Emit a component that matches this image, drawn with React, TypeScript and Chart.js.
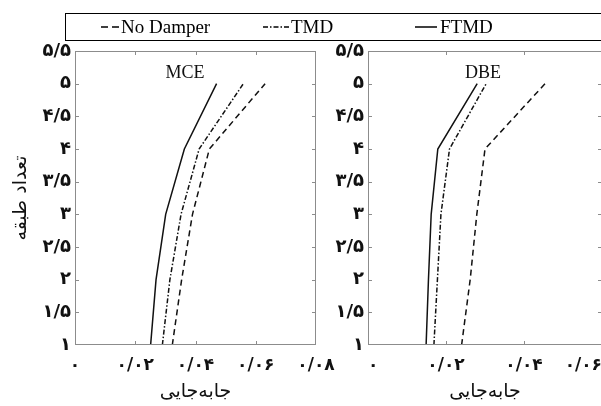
import React, { useEffect, useRef } from 'react';
import { Chart, registerables } from 'chart.js';

Chart.register(...registerables);

// ---- data ----
const floors = [1, 2, 3, 4, 5];

const mceNoDamper = [0.0323, 0.0354, 0.039, 0.0446, 0.0631];
const mceTMD = [0.029, 0.0315, 0.0352, 0.0412, 0.0559];
const mceFTMD = [0.0251, 0.0269, 0.0301, 0.0363, 0.047];

const dbeNoDamper = [0.024, 0.0262, 0.0279, 0.03, 0.0454];
const dbeTMD = [0.0169, 0.0178, 0.0187, 0.0209, 0.0303];
const dbeFTMD = [0.0149, 0.0155, 0.0162, 0.0179, 0.028];

const floorTickLabels = ['۱', '۱/۵', '۲', '۲/۵', '۳', '۳/۵', '۴', '۴/۵', '۵', '۵/۵'];
const mceDriftTickLabels = ['۰', '۰/۰۲', '۰/۰۴', '۰/۰۶', '۰/۰۸'];
const dbeDriftTickLabels = ['۰', '۰/۰۲', '۰/۰۴', '۰/۰۶'];

const seriesNames = ['No Damper', 'TMD', 'FTMD'];
const xTitle = 'جابه\u200Cجایی';
const yTitle = 'تعداد طبقه';

// ---- styles ----
const INK = '#111';
const FRAME = '#8c8c8c';
const dashes = [[6, 4], [5, 2, 1.5, 2], []];
const yTickFont = { family: '"DejaVu Sans"', size: 18, weight: 'bold' };
const xTickFont = { family: '"DejaVu Sans"', size: 17, weight: 'bold' };
const titleFont = { family: '"DejaVu Sans"', size: 19 };

function panelPlugin(label: string, lx: number, ly: number) {
  return {
    id: 'panelFrame',
    afterDatasetsDraw(chart: any) {
      const { ctx, chartArea: a, scales } = chart;
      ctx.save();
      ctx.strokeStyle = FRAME;
      ctx.lineWidth = 1;
      ctx.strokeRect(a.left + 0.5, a.top + 0.5, a.right - a.left - 1, a.bottom - a.top - 1);
      const tl = 4;
      ctx.beginPath();
      scales.x.ticks.forEach((t: any) => {
        const px = Math.round(scales.x.getPixelForValue(t.value)) + 0.5;
        if (px <= a.left + 2 || px >= a.right - 2) return;
        ctx.moveTo(px, a.bottom);
        ctx.lineTo(px, a.bottom - tl);
        ctx.moveTo(px, a.top);
        ctx.lineTo(px, a.top + tl);
      });
      scales.y.ticks.forEach((t: any) => {
        const py = Math.round(scales.y.getPixelForValue(t.value)) + 0.5;
        if (py <= a.top + 2 || py >= a.bottom - 2) return;
        ctx.moveTo(a.left, py);
        ctx.lineTo(a.left + tl, py);
        ctx.moveTo(a.right, py);
        ctx.lineTo(a.right - tl, py);
      });
      ctx.stroke();
      ctx.fillStyle = INK;
      ctx.font = '18px "Liberation Serif"';
      ctx.textAlign = 'center';
      ctx.textBaseline = 'middle';
      ctx.fillText(label, a.left + lx, a.top + ly);
      ctx.restore();
    },
  };
}

function makeConfig(p: {
  noDamper: number[]; tmd: number[]; ftmd: number[]; xMax: number; xLabels: string[]; xAlign: string;
  yWidth: number; padRight: number; showYTitle: boolean; label: string; lx: number; ly: number;
}) {
  const sets = [p.noDamper, p.tmd, p.ftmd];
  return {
    type: 'line',
    data: {
      datasets: sets.map((vals, k) => ({
        label: seriesNames[k],
        data: floors.map((f, i) => ({ x: vals[i], y: f })),
        borderColor: INK,
        borderWidth: 1.5,
        borderDash: dashes[k],
        pointRadius: 0,
        tension: 0,
        fill: false,
      })),
    },
    options: {
      responsive: false,
      maintainAspectRatio: false,
      animation: false,
      layout: { padding: { top: 51, right: p.padRight, left: 0, bottom: 0 } },
      plugins: { legend: { display: false }, tooltip: { enabled: false } },
      scales: {
        x: {
          type: 'linear',
          min: 0,
          max: p.xMax,
          ticks: {
            stepSize: 0.02,
            autoSkip: false,
            maxRotation: 0,
            align: p.xAlign,
            padding: 10,
            color: INK,
            font: xTickFont,
            callback: (_v: any, i: number) => p.xLabels[i],
          },
          grid: { display: false, drawTicks: false },
          border: { display: false },
          title: { display: true, text: xTitle, color: INK, font: titleFont, padding: { top: 0, bottom: 3 } },
          afterFit: (s: any) => { s.height = 61; },
        },
        y: {
          type: 'linear',
          min: 1,
          max: 5.5,
          ticks: {
            stepSize: 0.5,
            autoSkip: false,
            padding: 4,
            color: INK,
            font: yTickFont,
            callback: (_v: any, i: number) => floorTickLabels[i],
          },
          grid: { display: false, drawTicks: false },
          border: { display: false },
          title: { display: p.showYTitle, text: yTitle, color: INK, font: titleFont, padding: { top: 10, bottom: 0 } },
          afterFit: (s: any) => { s.width = p.yWidth; },
        },
      },
    },
    plugins: [panelPlugin(p.label, p.lx, p.ly)],
  };
}

function Legend() {
  const text: React.CSSProperties = {
    position: 'absolute', top: 15, fontFamily: '"Liberation Serif"', fontSize: 19,
    color: '#000', lineHeight: '24px', whiteSpace: 'nowrap',
  };
  return (
    <>
      <div style={{ position: 'absolute', left: 65, top: 13, width: 600, height: 28, border: '1.5px solid #000', boxSizing: 'border-box' }} />
      <svg style={{ position: 'absolute', left: 0, top: 0 }} width={601} height={50}>
        <line x1={101} y1={27} x2={119} y2={27} stroke="#000" strokeWidth={1.5} strokeDasharray="7 4" />
        <line x1={263} y1={27} x2={290} y2={27} stroke="#000" strokeWidth={1.5} strokeDasharray="5 2 1.5 2" />
        <line x1={415} y1={27} x2={437} y2={27} stroke="#000" strokeWidth={1.5} />
      </svg>
      <div style={{ ...text, left: 121 }}>{seriesNames[0]}</div>
      <div style={{ ...text, left: 291 }}>{seriesNames[1]}</div>
      <div style={{ ...text, left: 440 }}>{seriesNames[2]}</div>
    </>
  );
}

export default function App() {
  const leftRef = useRef<HTMLCanvasElement>(null);
  const rightRef = useRef<HTMLCanvasElement>(null);

  useEffect(() => {
    const c1 = new Chart(leftRef.current as HTMLCanvasElement, makeConfig({
      noDamper: mceNoDamper, tmd: mceTMD, ftmd: mceFTMD, xMax: 0.08, xLabels: mceDriftTickLabels, xAlign: 'center',
      yWidth: 75, padRight: 370 - 316, showYTitle: true, label: 'MCE', lx: 110, ly: 22,
    }) as any);
    const c2 = new Chart(rightRef.current as HTMLCanvasElement, makeConfig({
      noDamper: dbeNoDamper, tmd: dbeTMD, ftmd: dbeFTMD, xMax: 0.06, xLabels: dbeDriftTickLabels, xAlign: 'inner',
      yWidth: 50, padRight: 302 - 284, showYTitle: false, label: 'DBE', lx: 115, ly: 22,
    }) as any);
    return () => { c1.destroy(); c2.destroy(); };
  }, []);

  return (
    <div style={{ position: 'fixed', left: 0, top: 0, width: 601, height: 406, overflow: 'hidden', background: '#fff' }}>
      <canvas ref={leftRef} width={370} height={406} style={{ position: 'absolute', left: 0, top: 0 }} />
      <canvas ref={rightRef} width={302} height={406} style={{ position: 'absolute', left: 318, top: 0 }} />
      <Legend />
    </div>
  );
}
